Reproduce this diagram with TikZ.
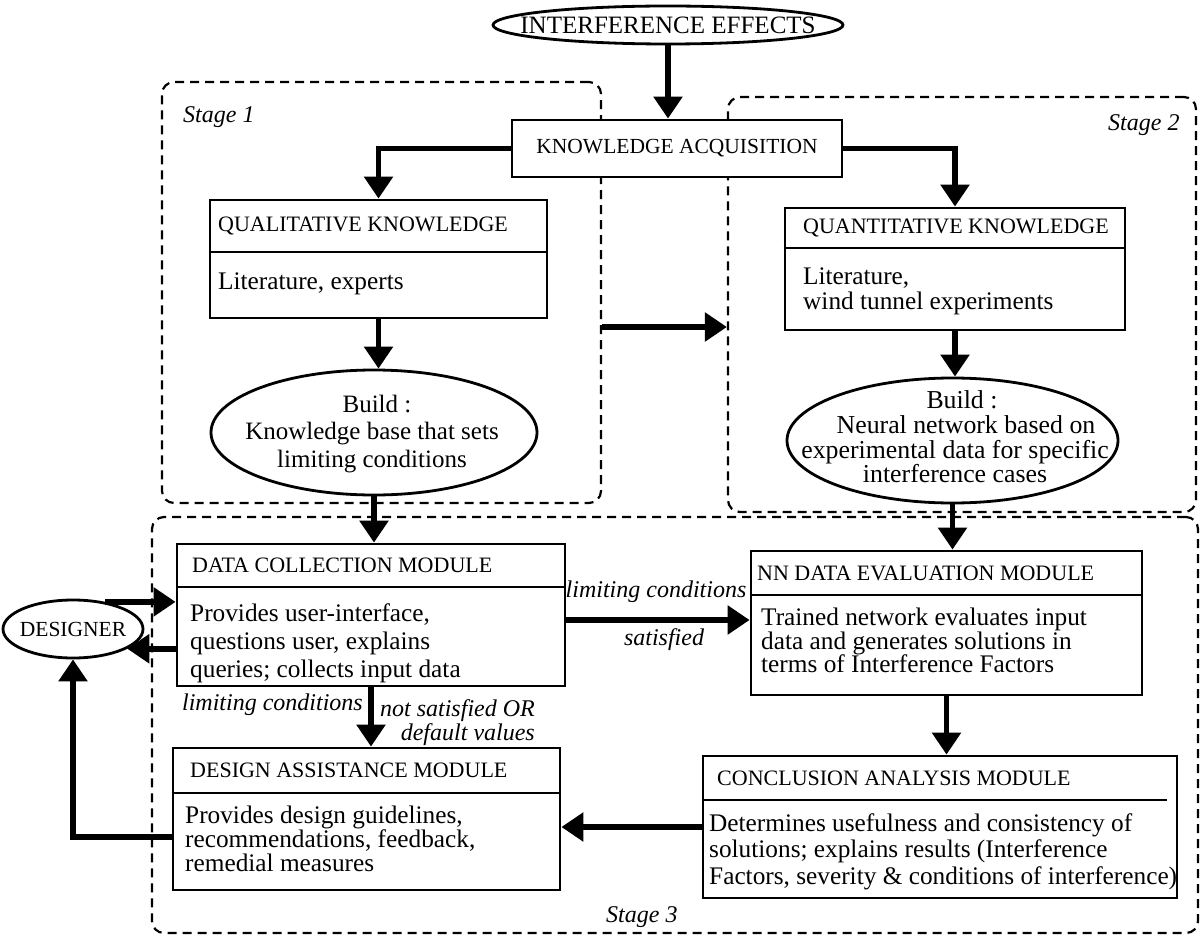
\documentclass[tikz,border=0pt]{standalone}
\usepackage{fontspec}
\setmainfont{Liberation Serif}
\usetikzlibrary{arrows.meta,shapes.geometric}
\begin{document}
\begin{tikzpicture}[x=1pt,y=-1pt,
  box/.style={draw, line width=2.8pt, fill=white, inner sep=0pt, rectangle},
  divl/.style={line width=2.8pt},
  oval/.style={draw, ellipse, line width=2.8pt, fill=white, inner sep=0pt},
  stagebox/.style={draw, line width=2.2pt, dash pattern=on 9pt off 6pt, rounded corners=12pt, inner sep=0pt, rectangle},
  arr/.style={line width=5.5pt, -{Triangle[width=28pt,length=22pt]}},
  hdr/.style={font=\fontsize{22}{24}\selectfont, inner sep=0pt, anchor=west},
  body/.style={inner sep=0pt, anchor=north west, align=left},
  etext/.style={inner sep=0pt, align=center},
  lab/.style={inner sep=0pt}
]
\useasboundingbox (0,0) rectangle (1201,941);

% stage frames
\node[stagebox, minimum width=439pt, minimum height=421pt] (s1) at (381.5,292.5) {};
\node[stagebox, minimum width=468pt, minimum height=415pt] (s2) at (962,304.5) {};
\node[stagebox, minimum width=1046pt, minimum height=416pt] (s3) at (675,725) {};
\node[lab, anchor=west, font=\fontsize{24}{25}\selectfont\itshape] (l1) at (183,117) {Stage 1};
\node[lab, anchor=west, font=\fontsize{24}{25}\selectfont\itshape] (l2) at (1108,125) {Stage 2};
\node[lab, anchor=west, font=\fontsize{24}{25}\selectfont\itshape] (l3) at (606,917) {Stage 3};

% title
\node[oval, minimum width=350pt, minimum height=38pt] (title) at (668,25) {};
\node[font=\fontsize{25}{27}\selectfont, inner sep=0pt] (titletxt) at (title) {INTERFERENCE EFFECTS};

% knowledge acquisition
\node[box, minimum width=330pt, minimum height=57pt, font=\fontsize{21.5}{24}\selectfont] (ka) at (677,148.5) {KNOWLEDGE ACQUISITION};

% qualitative
\node[box, minimum width=337pt, minimum height=118pt] (qual) at (378.5,259) {};
\draw[divl] (qual.west |- 0,252) -- (qual.east |- 0,252);
\node[hdr] (qualh) at (218,226) {QUALITATIVE KNOWLEDGE};
\node[body, font=\fontsize{25.3}{26}\selectfont] (qualb) at (218,273) {Literature, experts};

% quantitative
\node[box, minimum width=340pt, minimum height=122pt] (quant) at (955,269) {};
\draw[divl] (quant.west |- 0,248) -- (quant.east |- 0,248);
\node[hdr] (quanth) at (803,228) {QUANTITATIVE KNOWLEDGE};
\node[body, font=\fontsize{25.3}{25}\selectfont] (quantb) at (803,268) {Literature,\\wind tunnel experiments};

% build ellipses
\node[oval, minimum width=326pt, minimum height=125pt] (ell1) at (374,432.5) {};
\node[etext, font=\fontsize{25}{27.5}\selectfont] (ell1t) at (372,434) {\hspace*{10pt}Build :\\Knowledge base that sets\\limiting conditions};
\node[oval, minimum width=331pt, minimum height=125pt] (ell2) at (952.5,440.5) {};
\node[etext, font=\fontsize{25.8}{24.7}\selectfont] (ell2t) at (955,437) {\hspace*{14pt}Build :\\\hspace*{22pt}Neural network based on\\experimental data for specific\hspace*{10pt}\\interference cases};

% data collection
\node[box, minimum width=388pt, minimum height=142pt] (dcm) at (371,615) {};
\draw[divl] (dcm.west |- 0,587) -- (dcm.east |- 0,587);
\node[hdr] (dcmh) at (192,565.5) {DATA COLLECTION MODULE};
\node[body, font=\fontsize{25.3}{28}\selectfont] (dcmb) at (190,603) {Provides user-interface,\\questions user, explains\\queries; collects input data};

% design assistance
\node[box, minimum width=387pt, minimum height=142pt] (dam) at (366.5,819) {};
\draw[divl] (dam.west |- 0,793) -- (dam.east |- 0,793);
\node[hdr] (damh) at (190,770.5) {DESIGN ASSISTANCE MODULE};
\node[body, font=\fontsize{25.3}{24}\selectfont] (damb) at (185,806) {Provides design guidelines,\\recommendations, feedback,\\remedial measures};

% NN data evaluation
\node[box, minimum width=391pt, minimum height=144pt] (nn) at (946.5,623) {};
\draw[divl] (nn.west |- 0,595) -- (nn.east |- 0,595);
\node[hdr] (nnh) at (757,573) {NN DATA EVALUATION MODULE};
\node[body, font=\fontsize{25.3}{23.5}\selectfont] (nnb) at (761,608) {Trained network evaluates input\\data and generates solutions in\\terms of Interference Factors};

% conclusion analysis
\node[box, minimum width=474pt, minimum height=142pt] (cam) at (940,827) {};
\draw[divl] (cam.west |- 0,800) -- (1167,800);
\node[hdr] (camh) at (717,778) {CONCLUSION ANALYSIS MODULE};
\node[body, font=\fontsize{25.3}{26.5}\selectfont] (camb) at (709,813) {Determines usefulness and consistency of\\solutions; explains results (Interference\\Factors, severity \& conditions of interference)};

% designer
\node[oval, minimum width=140pt, minimum height=58pt] (designer) at (73,629) {};
\node[font=\fontsize{21.5}{24}\selectfont, inner sep=0pt] (designertxt) at (designer) {DESIGNER};

% helper coordinates
\coordinate (yA) at (0,620);
\coordinate (yB) at (0,837);
\coordinate (yM) at (0,327);

% connectors
\draw[arr] (title.south) -- (title.south |- ka.north);
\draw[arr] (ka.west) -| (qual.north);
\draw[arr] (ka.east) -| (quant.north);
\draw[arr] (qual.south) -- (qual.south |- ell1.north);
\draw[arr] (quant.south) -- (quant.south |- ell2.north);
\draw[arr] (s1.east |- yM) -- (s2.west |- yM);
\draw[arr] (ell1.south) -- (ell1.south |- dcm.north);
\draw[arr] (ell2.south) -- (ell2.south |- nn.north);
\draw[arr] (dcm.east |- yA) -- (nn.west |- yA);
\draw[arr] (dcm.south) -- (dcm.south |- dam.north);
\draw[arr] (nn.south) -- (nn.south |- cam.north);
\draw[arr] (cam.west) -- (cam.west -| dam.east);
\draw[arr] (dam.west |- yB) -| (designer.south);
\draw[arr] (designer.40) -- (designer.40 -| dcm.west);
\draw[arr] (dcm.west |- designer.-20) -- (designer.-20);

% connector labels
\node[lab, anchor=east, font=\fontsize{24}{25}\selectfont\itshape] (lc1) at (363,705) {limiting conditions};
\node[lab, anchor=north east, align=right, font=\fontsize{24}{24}\selectfont\itshape] (ns) at (535,699) {not satisfied OR\\default values};
\node[lab, font=\fontsize{24}{25}\selectfont\itshape] (lc2) at (656,592) {limiting conditions};
\node[lab, font=\fontsize{24}{25}\selectfont\itshape] (sat) at (664,640) {satisfied};
\end{tikzpicture}
\end{document}
